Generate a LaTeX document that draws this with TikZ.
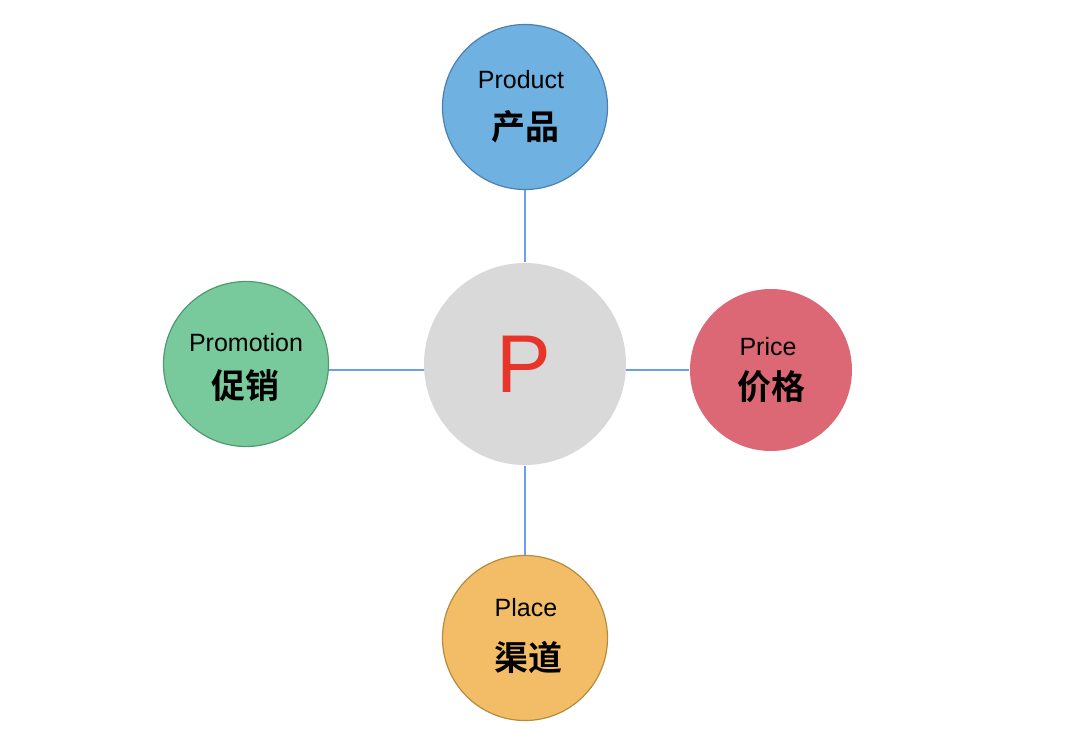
\documentclass[tikz,border=0pt]{standalone}
\usepackage{fontspec}
\setmainfont{Liberation Sans}
\newfontfamily\cjk{Noto Sans CJK SC}[BoldFont={* Bold}]
\usetikzlibrary{backgrounds}
\definecolor{prodfill}{HTML}{6FB1E0}
\definecolor{prodline}{HTML}{4D80B0}
\definecolor{promfill}{HTML}{78C99B}
\definecolor{promline}{HTML}{4F9A6C}
\definecolor{pricefill}{HTML}{DC6875}
\definecolor{placefill}{HTML}{F3BD67}
\definecolor{placeline}{HTML}{B58C3D}
\definecolor{ctrfill}{HTML}{D9D9D9}
\definecolor{pred}{HTML}{E8352A}
\definecolor{linkblue}{HTML}{6D9EEB}
\tikzset{
  x=1pt,y=-1pt,
  ball/.style={circle,inner sep=0pt,line width=1.2pt},
  entxt/.style={font=\fontsize{25}{27}\selectfont,text=black,inner sep=0pt},
  cntxt/.style={font=\cjk\bfseries\fontsize{34}{36}\selectfont,text=black,inner sep=0pt},
  link/.style={draw=linkblue,line width=1.5pt}
}
\begin{document}
\begin{tikzpicture}
\useasboundingbox (0,0) rectangle (1080,731);
\node[ball,fill=ctrfill,minimum size=202pt] (ctr) at (525,364) {};
\node[text=pred,font=\fontsize{82}{90}\selectfont,inner sep=0pt] (p) at (524,364) {P};
\node[ball,fill=prodfill,draw=prodline,minimum size=165pt] (prod) at (525,107) {};
\node[ball,fill=promfill,draw=promline,minimum size=165pt] (prom) at (246,364) {};
\node[ball,fill=pricefill,minimum size=162pt] (price) at (771,370) {};
\node[ball,fill=placefill,draw=placeline,minimum size=165pt] (place) at (525,638) {};
\node[entxt] (prodE) at (521,80) {Product};
\node[cntxt] (prodC) at (525,127) {产品};
\node[entxt] (promE) at (246,343) {Promotion};
\node[cntxt] (promC) at (245,386) {促销};
\node[entxt] (priceE) at (768,347) {Price};
\node[cntxt] (priceC) at (771,387) {价格};
\node[entxt] (placeE) at (526,608) {Place};
\node[cntxt] (placeC) at (528,657) {渠道};
\begin{scope}[on background layer]
\draw[link] (prod.south) -- (ctr.north);
\draw[link] (ctr.south) -- (place.north);
\draw[link] (prom.east |- price.center) -- (ctr.center |- price.center);
\draw[link] (ctr.center |- price.center) -- (price.west);
\end{scope}
\end{tikzpicture}
\end{document}
